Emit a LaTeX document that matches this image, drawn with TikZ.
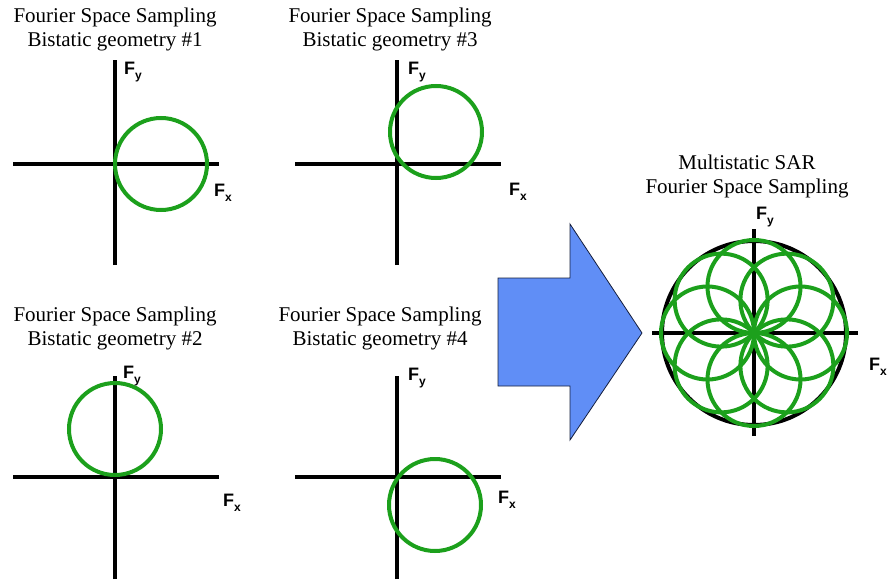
\documentclass[tikz,border=0pt]{standalone}
\usepackage{fontspec}
\setmainfont{Liberation Serif}
\setsansfont{Liberation Sans}
\usetikzlibrary{calc}
\definecolor{ringgreen}{RGB}{28,160,28}
\definecolor{arrowblue}{RGB}{96,142,246}
\definecolor{arrowedge}{RGB}{20,30,60}
\newcommand\axlabel[1]{\sffamily\bfseries\fontsize{18}{18}\selectfont F\raisebox{-0.28em}{\fontsize{12}{12}\selectfont #1}}
\begin{document}
\begin{tikzpicture}[x=1pt,y=-1pt,
  axis/.style={line width=4pt},
  ring/.style={draw=ringgreen,line width=4pt},
  title/.style={align=center,font=\fontsize{21}{24}\selectfont,inner sep=0pt},
  lab/.style={inner sep=0pt}]
\useasboundingbox (0,0) rectangle (890,580);
% ---------- panel 1 ----------
\node[title] (t1) at (115,29) {Fourier Space Sampling\\Bistatic geometry \#1};
\coordinate (o1) at (115,164);
\draw[axis] ([yshift=-101pt]o1) -- ([yshift=104pt]o1);
\draw[axis] ([xshift=-102pt]o1) -- ([xshift=104pt]o1);
\draw[ring] ($(o1)+(46,0)$) circle[radius=46];
\node[lab] (fy1) at ($(o1)+(18,-92)$) {\axlabel{y}};
\node[lab] (fx1) at ($(o1)+(108,29)$) {\axlabel{x}};
% ---------- panel 3 ----------
\node[title] (t3) at (390,29) {Fourier Space Sampling\\Bistatic geometry \#3};
\coordinate (o3) at (397,164);
\draw[axis] ([yshift=-101pt]o3) -- ([yshift=104pt]o3);
\draw[axis] ([xshift=-102pt]o3) -- ([xshift=104pt]o3);
\draw[ring] ($(o3)+(39,-32)$) circle[radius=46];
\node[lab] (fy3) at ($(o3)+(20,-92)$) {\axlabel{y}};
\node[lab] (fx3) at ($(o3)+(121,28)$) {\axlabel{x}};
% ---------- panel 2 ----------
\node[title] (t2) at (115,328) {Fourier Space Sampling\\Bistatic geometry \#2};
\coordinate (o2) at (115,477);
\draw[axis] ([yshift=-102pt]o2) -- ([yshift=101pt]o2);
\draw[axis] ([xshift=-102pt]o2) -- ([xshift=104pt]o2);
\draw[ring] ($(o2)+(0,-48)$) circle[radius=46];
\node[lab] (fy2) at ($(o2)+(17,-101)$) {\axlabel{y}};
\node[lab] (fx2) at ($(o2)+(117,26)$) {\axlabel{x}};
% ---------- panel 4 ----------
\node[title] (t4) at (380,328) {Fourier Space Sampling\\Bistatic geometry \#4};
\coordinate (o4) at (397,477);
\draw[axis] ([yshift=-102pt]o4) -- ([yshift=101pt]o4);
\draw[axis] ([xshift=-102pt]o4) -- ([xshift=104pt]o4);
\draw[ring] ($(o4)+(38,28)$) circle[radius=46];
\node[lab] (fy4) at ($(o4)+(20,-99)$) {\axlabel{y}};
\node[lab] (fx4) at ($(o4)+(110,23)$) {\axlabel{x}};
% ---------- block arrow ----------
\draw[fill=arrowblue,draw=arrowedge,line width=0.8pt,line join=miter]
  (498,278) -- (570,278) -- (570,224) -- (642,333) -- (570,440) -- (570,386) -- (498,386) -- cycle;
% ---------- multistatic ----------
\node[title] (tm) at (747,176) {Multistatic SAR\\Fourier Space Sampling};
\coordinate (om) at (754,333);
\draw[line width=4pt] (om) circle[radius=92];
\draw[axis] ([yshift=-103pt]om) -- ([yshift=104pt]om);
\draw[axis] ([xshift=-102pt]om) -- ([xshift=104pt]om);
\foreach \a in {0,45,...,315}
  \draw[ring] ($(om)+(\a:46.5)$) circle[radius=46.5];
\node[lab] (fym) at (765,217) {\axlabel{y}};
\node[lab] (fxm) at (878,367) {\axlabel{x}};
\end{tikzpicture}
\end{document}
